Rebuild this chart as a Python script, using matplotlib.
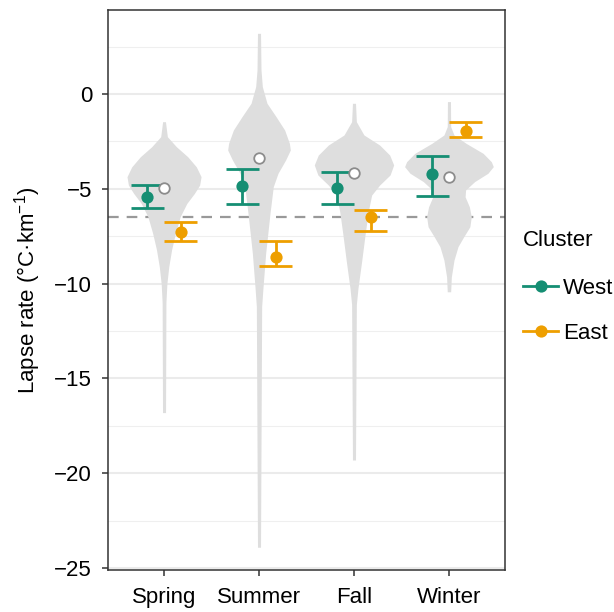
import numpy as np
import matplotlib
matplotlib.use('Agg')
import matplotlib.pyplot as plt
from matplotlib.lines import Line2D

plt.rcParams['font.family'] = ['Liberation Sans', 'DejaVu Sans']
plt.rcParams['mathtext.default'] = 'regular'
plt.rcParams['font.size'] = 16

seasons = ['Spring', 'Summer', 'Fall', 'Winter']
clusters = ['West', 'East']
colors = {'West': '#158E73', 'East': '#EE9F00'}

# cluster means and intervals (lapse rate, degC/km)
west_mean = [-5.42, -4.84, -4.94, -4.22]
west_lo = [-6.02, -5.82, -5.82, -5.40]
west_hi = [-4.80, -3.97, -4.13, -3.27]
east_mean = [-7.27, -8.62, -6.50, -1.95]
east_lo = [-7.77, -9.09, -7.21, -2.29]
east_hi = [-6.74, -7.76, -6.13, -1.48]
# overall season mean (open circles)
all_mean = [-4.93, -3.37, -4.19, -4.38]
ref_rate = -6.5

# violin outlines: y value and half width (in x units)
spring_y = [-1.46, -2.25, -2.78, -3.31, -3.84, -4.36, -4.8, -5.24, -5.77, -6.47, -7.34, -8.2, -9.1, -10.0, -11.0, -16.8]
spring_w = [0.015, 0.035, 0.13, 0.25, 0.34, 0.39, 0.375, 0.32, 0.24, 0.17, 0.12, 0.08, 0.05, 0.03, 0.02, 0.016]
summer_y = [3.2, 1.27, 0.39, -0.49, -1.2, -1.9, -2.6, -2.95, -3.48, -4.18, -4.89, -6.28, -8.4, -10.2, -11.2, -23.9]
summer_w = [0.016, 0.021, 0.035, 0.084, 0.18, 0.27, 0.32, 0.33, 0.28, 0.20, 0.15, 0.116, 0.07, 0.042, 0.028, 0.016]
fall_y = [-0.49, -1.46, -2.16, -2.69, -3.22, -3.74, -4.27, -4.8, -5.33, -6.2, -7.44, -8.85, -10.24, -11.1, -19.3]
fall_w = [0.016, 0.025, 0.105, 0.27, 0.376, 0.418, 0.38, 0.27, 0.186, 0.15, 0.116, 0.08, 0.042, 0.025, 0.016]
winter_y = [-0.4, -1.72, -2.16, -2.6, -3.13, -3.57, -3.83, -4.18, -4.62, -5.06, -5.42, -5.95, -6.47, -7.0, -7.53, -8.05, -8.76, -9.64, -10.43]
winter_w = [0.016, 0.018, 0.053, 0.18, 0.36, 0.446, 0.467, 0.41, 0.27, 0.175, 0.17, 0.215, 0.235, 0.22, 0.155, 0.095, 0.053, 0.025, 0.018]

violins = [(spring_y, spring_w), (summer_y, summer_w), (fall_y, fall_w), (winter_y, winter_w)]

fig = plt.figure(figsize=(6.14, 6.12), dpi=100)
ax = fig.add_axes([108/614, 1-570/612, 397/614, 560/612])

pos = np.arange(1, len(seasons)+1)
dodge = 0.175
cap = 0.175

ax.axhline(ref_rate, color='#999999', lw=1.6, ls=(0, (4.8, 3.6)), zorder=2)

for i, (vy, vw) in enumerate(violins):
    vy = np.array(vy)
    vw = np.array(vw)
    ax.fill_betweenx(vy, pos[i]-vw, pos[i]+vw, color='#DEDEDE', lw=0, zorder=3)

for name, m, lo, hi, off in [('West', west_mean, west_lo, west_hi, -dodge),
                             ('East', east_mean, east_lo, east_hi, dodge)]:
    x = pos + off
    c = colors[name]
    ax.vlines(x, lo, hi, color=c, lw=2.0, zorder=4)
    ax.hlines(lo, x-cap, x+cap, color=c, lw=2.0, zorder=4)
    ax.hlines(hi, x-cap, x+cap, color=c, lw=2.0, zorder=4)
    ax.plot(x, m, 'o', color=c, ms=8.8, mew=0, zorder=5)

ax.plot(pos, all_mean, 'o', mfc='white', mec='#8C8C8C', ms=7.6, mew=1.3, zorder=6)

ax.set_xlim(0.41, 4.59)
ax.set_ylim(-25.1, 4.43)
ax.set_xticks(pos)
ax.set_xticklabels(seasons)
ax.set_yticks([-25, -20, -15, -10, -5, 0])
ax.set_yticklabels(['\u221225', '\u221220', '\u221215', '\u221210', '\u22125', '0'])
ax.set_yticks([-22.5, -17.5, -12.5, -7.5, -2.5, 2.5], minor=True)
ax.grid(axis='y', which='major', color='#EBEBEB', lw=1.5, zorder=0)
ax.grid(axis='y', which='minor', color='#EFEFEF', lw=0.8, zorder=0)
ax.set_axisbelow(True)
ax.tick_params(which='major', length=4.5, width=1.1, color='#333333', labelsize=16)
ax.tick_params(axis='x', which='major', pad=8)
ax.tick_params(axis='y', which='major', pad=7)
ax.tick_params(which='minor', length=0)
for s in ax.spines.values():
    s.set_color('#333333')
    s.set_linewidth(1.1)

ax.set_ylabel('Lapse rate (°C·km$^{-1}$)', fontsize=16, labelpad=8)

handles = [Line2D([], [], color=colors[k], lw=2.0, marker='o', ms=8.8, mew=0) for k in clusters]
leg = ax.legend(handles, clusters, title='Cluster', loc='center left', bbox_to_anchor=(1.0, 0.505),
                frameon=False, fontsize=16, title_fontsize=16, handlelength=1.6,
                handletextpad=0.2, labelspacing=1.1, borderaxespad=0.4)
leg._legend_box.align = 'left'
leg._legend_box.sep = 19

fig.savefig('out.png', dpi=100)
